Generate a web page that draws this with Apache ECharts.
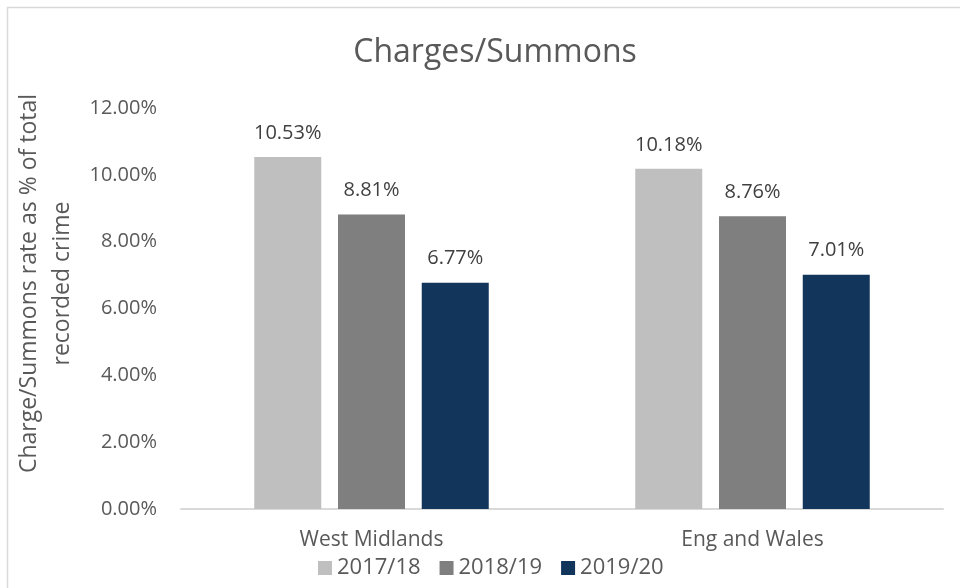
<!DOCTYPE html>
<html>
<head>
<meta charset="utf-8">
<script src="https://cdn.jsdelivr.net/npm/echarts@6/dist/echarts.min.js"></script>
<style>
  html, body { margin: 0; padding: 0; background: #fff; }
  #chart { width: 960px; height: 588px; }
</style>
</head>
<body>
<div id="chart"></div>
<script>
const categories = ["West Midlands", "Eng and Wales"];
const seriesNames = ["2017/18", "2018/19", "2019/20"];
const values2017 = [10.53, 10.18];
const values2018 = [8.81, 8.76];
const values2019 = [6.77, 7.01];
const colors = ["#bfbfbf", "#7f7f7f", "#12355b"];

const font = "Open Sans";
const chart = echarts.init(document.getElementById("chart"));

const makeSeries = (name, data, i) => ({
  name,
  type: "bar",
  data,
  barWidth: 67,
  barGap: "25%",
  itemStyle: { color: colors[i] },
  label: {
    show: true,
    position: "top",
    distance: 14,
    formatter: (p) => p.value.toFixed(2) + "%",
    color: "#404040",
    fontFamily: font,
    fontSize: 20,
  },
});

chart.setOption({
  animation: false,
  title: {
    text: "Charges/Summons",
    left: 490,
    textAlign: "center",
    top: 32,
    textStyle: { color: "#595959", fontFamily: font, fontSize: 32, fontWeight: "normal" },
  },
  graphic: [{
    type: "rect",
    shape: { x: 7.5, y: 7.5, width: 1000, height: 1000 },
    style: { fill: "none", stroke: "#d9d9d9", lineWidth: 1.5 },
    silent: true,
  }],
  legend: {
    data: seriesNames,
    left: 313,
    top: 552,
    icon: "rect",
    itemWidth: 14,
    itemHeight: 14,
    itemGap: 19,
    textStyle: { color: "#595959", fontFamily: font, fontSize: 22 },
  },
  grid: { left: 181, right: 17, top: 108, bottom: 79, outerBoundsMode: "none" },
  xAxis: {
    type: "category",
    data: categories,
    axisLine: { lineStyle: { color: "#d9d9d9", width: 2 } },
    axisTick: { show: false },
    axisLabel: { color: "#595959", fontFamily: font, fontSize: 21, margin: 21 },
  },
  yAxis: {
    type: "value",
    min: 0,
    max: 12,
    interval: 2,
    name: "Charge/Summons rate as % of total\nrecorded crime",
    nameLocation: "middle",
    nameRotate: 90,
    nameGap: 91,
    nameTextStyle: {
      color: "#595959",
      fontFamily: font,
      fontSize: 23,
      lineHeight: 33,
      padding: [0, 0, 0, 50],
    },
    axisLine: { show: false },
    axisTick: { show: false },
    splitLine: { show: false },
    axisLabel: {
      color: "#595959",
      fontFamily: font,
      fontSize: 20,
      margin: 24,
      formatter: (v) => v.toFixed(2) + "%",
    },
  },
  series: [
    makeSeries(seriesNames[0], values2017, 0),
    makeSeries(seriesNames[1], values2018, 1),
    makeSeries(seriesNames[2], values2019, 2),
  ],
});
</script>
</body>
</html>
